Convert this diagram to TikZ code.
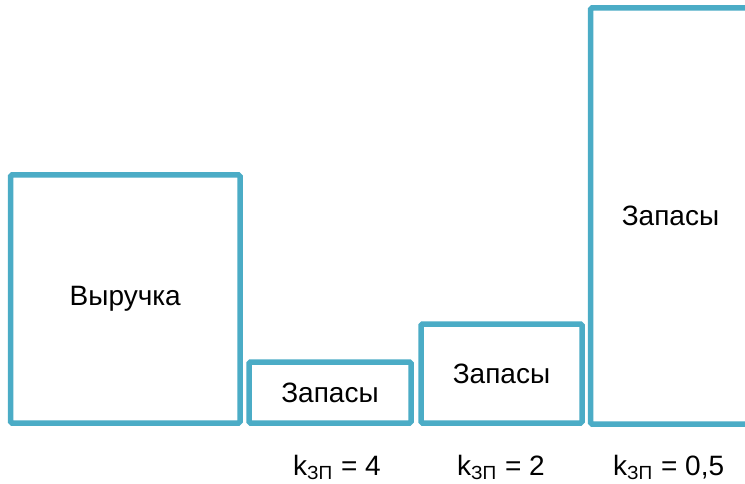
\documentclass[tikz,border=0pt]{standalone}
\usepackage{fontspec}
\setmainfont{Liberation Sans}
\definecolor{boxcol}{HTML}{4BACC6}
\newcommand{\ksub}{k\raisebox{-4pt}{\fontsize{19}{19}\selectfont ЗП}}
\begin{document}
\begin{tikzpicture}[x=1pt,y=1pt,
  box/.style={draw=boxcol, line width=5.5pt, rounded corners=1.5pt, fill=white, rectangle, inner sep=0pt, font=\fontsize{28}{33}\selectfont},
  klabel/.style={anchor=base west, inner sep=0pt, font=\fontsize{28}{33}\selectfont}]
\useasboundingbox (0,0) rectangle (745,483);
\node[box, minimum width=229.5pt, minimum height=248pt] (rev) at (125.25,184) {Выручка};
\node[box, minimum width=162pt, minimum height=61pt] (s1) at (330,90.5) {Запасы};
\node[box, minimum width=161pt, minimum height=99pt] (s2) at (501.5,109.5) {Запасы};
\node[box, minimum width=160pt, minimum height=416pt] (s3) at (670.5,267) {Запасы};
\node[klabel] (k1) at (293,7.5) {\ksub{}\hspace{1pt} = 4};
\node[klabel] (k2) at (457,7.5) {\ksub{}\hspace{1pt} = 2};
\node[klabel] (k3) at (613,7.5) {\ksub{}\hspace{1pt} = 0,5};
\end{tikzpicture}
\end{document}
